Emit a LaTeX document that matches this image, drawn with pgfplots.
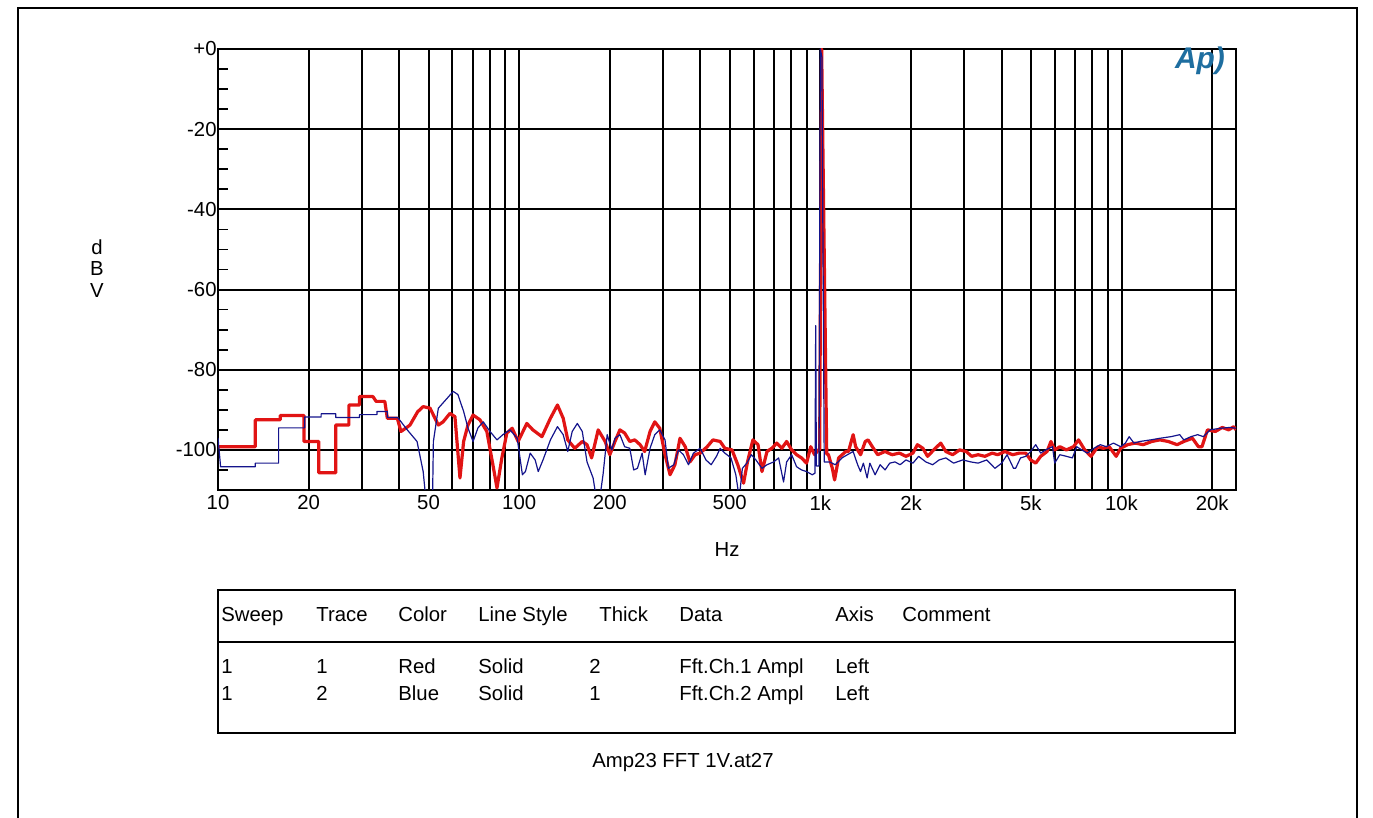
\documentclass[border=0pt]{standalone}
\usepackage{pgfplots}
\pgfplotsset{compat=1.18}
\usepackage{fontspec}
\setmainfont{Liberation Sans}
\definecolor{apred}{RGB}{225,20,20}
\definecolor{apblue}{RGB}{20,20,140}
\definecolor{aplogo}{RGB}{30,110,160}
\begin{document}
\begin{tikzpicture}
\useasboundingbox (0,0) rectangle (686.5bp,409bp);
\draw[line width=1bp] (9bp,0) -- (9bp,405bp) -- (678.5bp,405bp) -- (678.5bp,0);
\begin{axis}[
  at={(109bp,164bp)}, anchor=south west,
  scale only axis, width=509bp, height=220.5bp,
  xmode=log, xmin=10, xmax=24000, ymin=-110, ymax=0,
  axis line style={line width=1bp, black},
  xtick={10,20,30,40,50,60,70,80,90,100,200,300,400,500,600,700,800,900,1000,2000,3000,4000,5000,6000,7000,8000,9000,10000,20000},
  xticklabels={10,20,,,50,,,,,100,200,,,500,,,,,1k,2k,,,5k,,,,,10k,20k},
  ytick={-100,-80,-60,-40,-20,0},
  yticklabels={-100,-80,-60,-40,-20,+0},
  minor ytick={-105,-95,-90,-85,-75,-70,-65,-55,-50,-45,-35,-30,-25,-15,-10,-5},
  xminorticks=false,
  major tick length=0pt, minor tick length=5bp,
  tick align=inside, ytick pos=left, xtick pos=bottom,
  minor tick style={line width=0.9bp, black},
  grid=major,
  major grid style={line width=1bp, black},
  ticklabel style={font=\fontsize{10.2}{12}\selectfont, inner sep=0.5bp},
  xticklabel style={yshift=-2.2bp},
  clip=true,
]
\addplot[apred, line width=1.6bp, line join=round] coordinates {
(10,-99.2) (13.3,-99.2) (13.3,-92.5) (16.1,-92.5) (16.1,-91.4) (19.3,-91.4)
(19.3,-97.9) (21.6,-97.9) (21.6,-105.7) (24.6,-105.7) (24.6,-93.8) (27.2,-93.8)
(27.2,-88.8) (29.5,-88.8) (29.5,-86.7) (32.7,-86.7) (33.5,-87.9) (35.8,-87.9)
(36.5,-92.1) (39.4,-92.1) (40.5,-95.4) (42,-94.6) (43.4,-93.8) (46,-90.5)
(48,-89.2) (50.6,-89.6) (53.9,-93.8) (55.9,-93.0) (58.9,-90.9) (61.2,-91.7)
(63.6,-107.0) (65.4,-97.9) (67.6,-93.8) (70.3,-91.3) (74.1,-92.5) (78.1,-95.4)
(81.8,-103.7) (84.4,-109.5) (87.6,-102) (91,-95.8) (94.8,-94.6) (99.2,-97.9)
(106,-93.4) (111,-95.0) (119,-96.7) (127,-92.1) (134,-88.8) (140,-92.1)
(145,-97.5) (153,-99.6) (162,-97.9) (168,-98.7) (174,-102) (183,-95)
(193,-97.9) (200,-101.2) (208,-97.9) (216,-95) (224,-95.8) (233,-97.9)
(242,-97.5) (252,-98.7) (261,-100.4) (272,-95.4) (282,-93) (293,-94.6)
(305,-101.2) (317,-106.2) (329,-103.7) (342,-97.1) (356,-99.2) (369,-103)
(384,-101.2) (399,-100.8) (421,-99.2) (440,-97.5) (465,-97.9) (482,-99.6)
(509,-100) (532,-103.7) (556,-108.3) (573,-103) (597,-97.5) (621,-98.7)
(640,-105.4) (665,-100.4) (690,-99.6) (717,-98.3) (745,-99.6) (773,-97.9)
(803,-100) (834,-101.2) (866,-102) (900,-103.3) (929,-99.2) (957,-101.2)
(985,-100) (995,-100) (1010,0) (1050,-101) (1064,-101.2) (1096,-104.6)
(1115,-107.5) (1150,-102) (1215,-100.4) (1240,-100.4) (1285,-96.2) (1310,-99.2)
(1360,-101.2) (1410,-97.9) (1440,-97.5) (1500,-99.6) (1550,-101.2) (1640,-100.4)
(1730,-101.2) (1830,-100.8) (1925,-101.6) (2030,-100.8) (2100,-98.7) (2190,-99.6)
(2270,-101.6) (2380,-100) (2510,-98.3) (2610,-100.4) (2750,-101.2) (2900,-100)
(3050,-100.4) (3180,-101.6) (3340,-101.2) (3520,-101.6) (3720,-100.8) (3880,-101.2)
(4100,-100.4) (4350,-101.2) (4580,-100.8) (4810,-100.8) (4990,-102.5) (5190,-103.3)
(5390,-101.6) (5660,-100.4) (5830,-97.9) (6000,-100) (6240,-99.2) (6560,-100)
(6930,-99.2) (7200,-97.5) (7550,-100) (7920,-101.6) (8340,-99.2) (8700,-99.6)
(9100,-99.2) (9600,-101.6) (9930,-99.6) (10470,-98.7) (11100,-98.3) (11800,-98.7)
(12600,-97.9) (13400,-97.5) (14300,-97.9) (15300,-98.7) (16100,-97.9) (17200,-97.1)
(18000,-99.2) (18500,-99.2) (19300,-95) (20500,-95.4) (21600,-94.4) (22700,-95)
(23600,-94.2) (24000,-95)
};
\addplot[apblue, line width=0.6bp, line join=round] coordinates {
(10,-97) (10.2,-104.2) (13.3,-104.2) (13.3,-103.3) (15.9,-103.3) (15.9,-94.5)
(19.4,-94.5) (19.4,-91.8) (22,-91.8) (22,-91) (24.6,-91) (24.6,-91.9)
(29.5,-91.9) (29.5,-91.2) (33.7,-91.2) (33.7,-90.4) (36.5,-90.4) (36.5,-91.9)
(39.5,-91.9) (42.5,-95) (45.8,-97.9) (48,-105.4) (49.4,-115) (51.5,-115)
(51.9,-97.9) (53.9,-89.6) (57.7,-87.1) (60.4,-85.4) (62.6,-86.2) (65.4,-90.4)
(67.6,-94.5) (70.3,-97.9) (73,-94.5) (76,-93) (80,-95.4) (84.4,-97.5)
(88.3,-96.2) (93.2,-95) (98.5,-97.1) (102.5,-106.2) (104.9,-105.4) (108.8,-100.8)
(113,-102.5) (115.7,-105.4) (120,-102.5) (127,-97.5) (134,-94.2) (140,-96.2)
(145,-100.4) (150,-95.4) (156,-93.4) (162,-95.4) (168,-103) (176,-107)
(183,-115) (190,-106) (196,-96.2) (203,-100) (208,-97.1) (216,-96.2)
(224,-99.2) (233,-99.6) (240,-105) (247,-104.6) (256,-100.8) (262,-106.2)
(272,-99.6) (282,-96.2) (293,-95) (305,-97.5) (313,-104.6) (326,-103.7)
(338,-100) (351,-101.2) (365,-103.7) (379,-100.8) (399,-99.6) (417,-102.5)
(434,-103.7) (452,-101.6) (465,-99.6) (482,-100.8) (505,-102) (524,-106.2)
(538,-112) (551,-104.6) (570,-103.3) (590,-101.2) (611,-102.5) (640,-104.6)
(665,-103.7) (700,-103) (727,-102) (755,-108) (773,-103) (803,-101.2)
(834,-104.2) (866,-105) (900,-105.4) (940,-106.2) (960,-105.8) (965,-69)
(970,-104) (990,-104) (1000,0) (1012,-2) (1030,-103) (1075,-103)
(1120,-103.7) (1180,-102) (1230,-101.2) (1285,-100.4) (1330,-103.7) (1360,-105.4)
(1390,-103.3) (1430,-107) (1460,-103.3) (1520,-106.2) (1580,-103.7) (1640,-105)
(1700,-103.3) (1770,-103) (1840,-103.7) (1925,-102.5) (2030,-103.3) (2120,-101.6)
(2240,-103) (2360,-103.7) (2480,-102.5) (2610,-102) (2770,-103.3) (2970,-102.5)
(3160,-103) (3340,-103.3) (3570,-102.5) (3800,-104.6) (4000,-103.3) (4170,-101.2)
(4380,-104.6) (4450,-104.6) (4620,-102) (4810,-101.6) (4990,-100.4) (5190,-98.7)
(5390,-100.8) (5600,-100) (5900,-99.2) (6000,-103.3) (6240,-101.2) (6560,-101.6)
(6870,-102) (7100,-99.2) (7380,-100) (7700,-100.8) (8100,-99.6) (8500,-98.7)
(8900,-99.2) (9400,-98.3) (9930,-99.2) (10300,-98.3) (10600,-96.7) (11000,-98.3)
(11500,-97.9) (12500,-97.5) (13400,-97.1) (14600,-96.7) (15600,-96.2) (16100,-97.5)
(17000,-96.7) (17900,-96.2) (18700,-96.7) (19700,-95) (21300,-94.6) (22900,-94.4)
(24000,-94.6)
};
\end{axis}
% logo
\node[text=aplogo, font=\fontsize{15}{15}\selectfont\itshape\bfseries] at (600bp,378.5bp) {Ap)};
\begin{scope}[every node/.style={font=\fontsize{10.2}{12}\selectfont}]
\node at (48.5bp,285.5bp) {d};
\node at (48.5bp,274.5bp) {B};
\node at (48.5bp,263.5bp) {V};
\node at (363.5bp,134bp) {Hz};
% table
\draw[line width=0.8bp] (109bp,42.5bp) rectangle (617.5bp,114bp);
\draw[line width=0.8bp] (109bp,88bp) -- (617.5bp,88bp);
\foreach \x/\t in {110.5/Sweep,158/Trace,199/Color,239/Line Style,299.5/Thick,339.5/Data,417.5/Axis,451/Comment}
  \node[anchor=base west, inner sep=0pt] at (\x bp,98bp) {\t};
\foreach \x/\t in {110.5/1,158/1,199/Red,239/Solid,294.5/2,339.5/Fft.Ch.1 Ampl,417.5/Left}
  \node[anchor=base west, inner sep=0pt] at (\x bp,72bp) {\t};
\foreach \x/\t in {110.5/1,158/2,199/Blue,239/Solid,294.5/1,339.5/Fft.Ch.2 Ampl,417.5/Left}
  \node[anchor=base west, inner sep=0pt] at (\x bp,58.5bp) {\t};
\node at (341.5bp,27.5bp) {Amp23 FFT 1V.at27};
\end{scope}
\end{tikzpicture}
\end{document}
